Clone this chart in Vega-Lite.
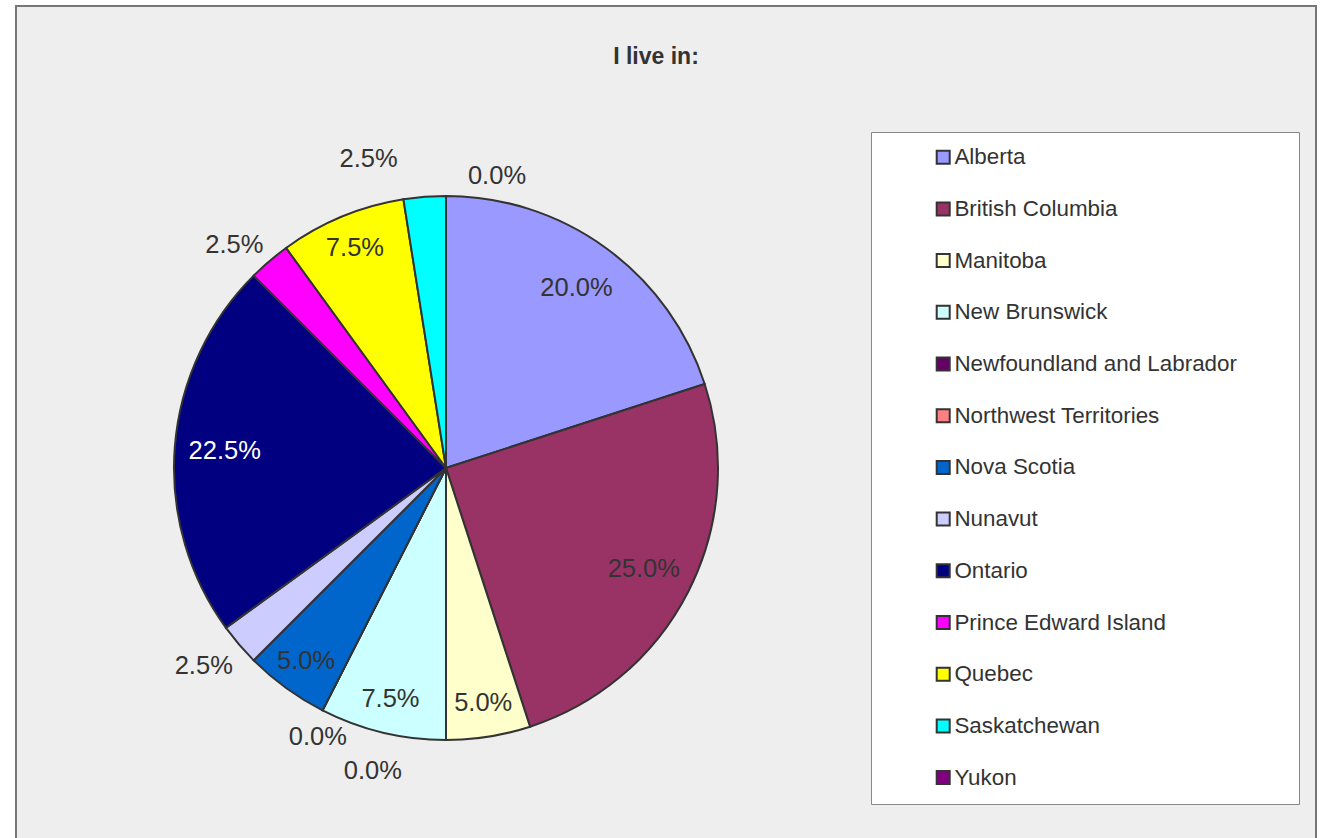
{
  "$schema": "https://vega.github.io/schema/vega-lite/v6.json",
  "autosize": {"type": "none"},
  "padding": {"left": 16, "top": 6, "right": 9, "bottom": 0},
  "width": 1300,
  "height": 840,
  "background": "white",
  "config": {
    "view": {"stroke": null},
    "font": "Liberation Sans"
  },
  "title": {
    "text": "I live in:",
    "fontSize": 23,
    "fontWeight": "bold",
    "color": "#333333",
    "anchor": "middle",
    "offset": -64,
    "dx": -10
  },
  "datasets": {
    "provinces": [
      {"rank": 1, "province": "Alberta", "pct": 0.2},
      {"rank": 2, "province": "British Columbia", "pct": 0.25},
      {"rank": 3, "province": "Manitoba", "pct": 0.05},
      {"rank": 4, "province": "New Brunswick", "pct": 0.075},
      {"rank": 5, "province": "Newfoundland and Labrador", "pct": 0.0},
      {"rank": 6, "province": "Northwest Territories", "pct": 0.0},
      {"rank": 7, "province": "Nova Scotia", "pct": 0.05},
      {"rank": 8, "province": "Nunavut", "pct": 0.025},
      {"rank": 9, "province": "Ontario", "pct": 0.225},
      {"rank": 10, "province": "Prince Edward Island", "pct": 0.025},
      {"rank": 11, "province": "Quebec", "pct": 0.075},
      {"rank": 12, "province": "Saskatchewan", "pct": 0.025},
      {"rank": 13, "province": "Yukon", "pct": 0.0}
    ],
    "frame": [{"name": "chart area"}]
  },
  "layer": [
    {
      "data": {"name": "frame"},
      "mark": {"type": "rect", "fill": "#EEEEEE", "stroke": "#777777", "strokeWidth": 2},
      "encoding": {
        "x": {"value": 0},
        "x2": {"value": "width"},
        "y": {"value": 0},
        "y2": {"value": "height"}
      }
    },
    {
      "data": {"name": "provinces"},
      "encoding": {
        "theta": {"field": "pct", "type": "quantitative", "stack": true},
        "order": {"field": "rank", "type": "quantitative"}
      },
      "layer": [
        {
          "mark": {"type": "arc", "x": 430, "y": 462, "outerRadius": 272, "stroke": "#333333", "strokeWidth": 2},
          "encoding": {
            "color": {
              "field": "province",
              "type": "nominal",
              "sort": null,
              "scale": {
                "domain": ["Alberta", "British Columbia", "Manitoba", "New Brunswick", "Newfoundland and Labrador", "Northwest Territories", "Nova Scotia", "Nunavut", "Ontario", "Prince Edward Island", "Quebec", "Saskatchewan", "Yukon"],
                "range": ["#9999FF", "#993366", "#FFFFCC", "#CCFFFF", "#660066", "#FF8080", "#0066CC", "#CCCCFF", "#000080", "#FF00FF", "#FFFF00", "#00FFFF", "#800080"]
              },
              "legend": {
                "title": " ",
                "titleOrient": "right",
                "titlePadding": 48,
                "titleFontSize": 22,
                "orient": "none",
                "legendX": 855,
                "legendY": 126,
                "fillColor": "white",
                "strokeColor": "#888888",
                "padding": 14,
                "symbolOffset": 47,
                "symbolType": "square",
                "symbolSize": 169,
                "symbolStrokeColor": "#333333",
                "symbolStrokeWidth": 2,
                "labelFontSize": 22.4,
                "labelColor": "#333333",
                "labelFont": "Liberation Sans",
                "labelOffset": 0,
                "labelLimit": 500,
                "rowPadding": 28.7
              }
            }
          }
        },
        {
          "mark": {"type": "text", "x": 430, "y": 462, "radius": 222, "fontSize": 25.5, "font": "Liberation Sans"},
          "encoding": {
            "text": {"condition": {"test": "datum.pct >= 0.2", "field": "pct", "format": ".1%"}, "value": ""},
            "color": {"condition": {"test": "datum.province === 'Ontario'", "value": "white"}, "value": "#333333"}
          }
        },
        {
          "mark": {"type": "text", "x": 430, "y": 462, "radius": 238, "fontSize": 25.5, "font": "Liberation Sans", "color": "#333333"},
          "encoding": {
            "text": {"condition": {"test": "datum.pct >= 0.05 && datum.pct < 0.2", "field": "pct", "format": ".1%"}, "value": ""}
          }
        },
        {
          "mark": {"type": "text", "x": 430, "y": 462, "radius": 312, "dx": -5, "dy": -5, "fontSize": 25.5, "font": "Liberation Sans", "color": "#333333"},
          "encoding": {
            "text": {"condition": {"test": "datum.province === 'Nunavut'", "field": "pct", "format": ".1%"}, "value": ""}
          }
        },
        {
          "mark": {"type": "text", "x": 430, "y": 462, "radius": 312, "dx": -9, "dy": 14, "fontSize": 25.5, "font": "Liberation Sans", "color": "#333333"},
          "encoding": {
            "text": {"condition": {"test": "datum.province === 'Prince Edward Island'", "field": "pct", "format": ".1%"}, "value": ""}
          }
        },
        {
          "mark": {"type": "text", "x": 430, "y": 462, "radius": 312, "dx": -53, "dy": 2, "fontSize": 25.5, "font": "Liberation Sans", "color": "#333333"},
          "encoding": {
            "text": {"condition": {"test": "datum.province === 'Saskatchewan'", "field": "pct", "format": ".1%"}, "value": ""}
          }
        },
        {
          "mark": {"type": "text", "x": 430, "y": 462, "radius": 300, "dx": 51, "dy": 8, "fontSize": 25.5, "font": "Liberation Sans", "color": "#333333"},
          "encoding": {
            "text": {"condition": {"test": "datum.province === 'Yukon'", "field": "pct", "format": ".1%"}, "value": ""}
          }
        },
        {
          "mark": {"type": "text", "x": 430, "y": 462, "radius": 300, "dx": 8, "dy": 2, "fontSize": 25.5, "font": "Liberation Sans", "color": "#333333"},
          "encoding": {
            "text": {"condition": {"test": "datum.province === 'Newfoundland and Labrador'", "field": "pct", "format": ".1%"}, "value": ""}
          }
        },
        {
          "mark": {"type": "text", "x": 430, "y": 462, "radius": 300, "dx": 63, "dy": 36, "fontSize": 25.5, "font": "Liberation Sans", "color": "#333333"},
          "encoding": {
            "text": {"condition": {"test": "datum.province === 'Northwest Territories'", "field": "pct", "format": ".1%"}, "value": ""}
          }
        }
      ]
    }
  ]
}
